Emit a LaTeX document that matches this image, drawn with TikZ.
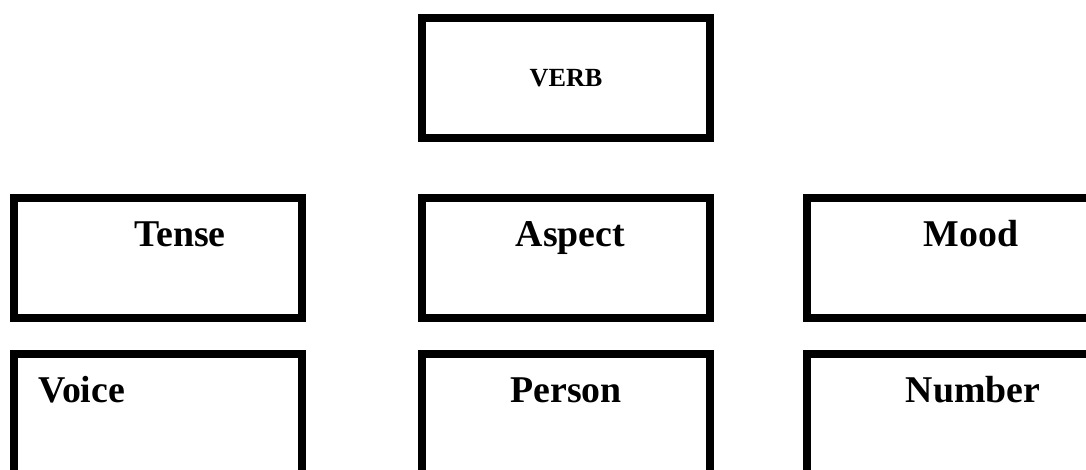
\documentclass[tikz,border=0pt]{standalone}
\usepackage{fontspec}
\setmainfont{Liberation Serif}
\begin{document}
\begin{tikzpicture}[x=1pt,y=-1pt,
  boxline/.style={draw=black,line width=7.8pt,line join=miter},
  bigtxt/.style={inner sep=0pt,anchor=base,font=\fontsize{37.8}{42}\selectfont\bfseries},
  smalltxt/.style={inner sep=0pt,anchor=base,font=\fontsize{26.2}{30}\selectfont\bfseries}]
\useasboundingbox[fill=white] (0,0) rectangle (1086,470);
\clip (0,0) rectangle (1086,470);
% boxes
\draw[boxline] (422,17.8) rectangle (709.7,138);
\draw[boxline] (13.7,197.8) rectangle (301.8,318);
\draw[boxline] (422,197.8) rectangle (709.7,318);
\draw[boxline] (806.7,197.8) rectangle (1094,318);
\draw[boxline] (13.7,354) rectangle (301.8,490);
\draw[boxline] (422,354) rectangle (709.7,490);
\draw[boxline] (806.7,354) rectangle (1094,490);
% labels
\node[smalltxt] (verb) at (566,87) {VERB};
\node[bigtxt] (tense) at (180,246.7) {Tense};
\node[bigtxt] (aspect) at (570.5,246.7) {Aspect};
\node[bigtxt] (mood) at (971,246.7) {Mood};
\node[bigtxt,anchor=base west] (voice) at (38,402.7) {Voice};
\node[bigtxt] (person) at (566,402) {Person};
\node[bigtxt] (number) at (973,402.7) {Number};
\end{tikzpicture}
\end{document}
